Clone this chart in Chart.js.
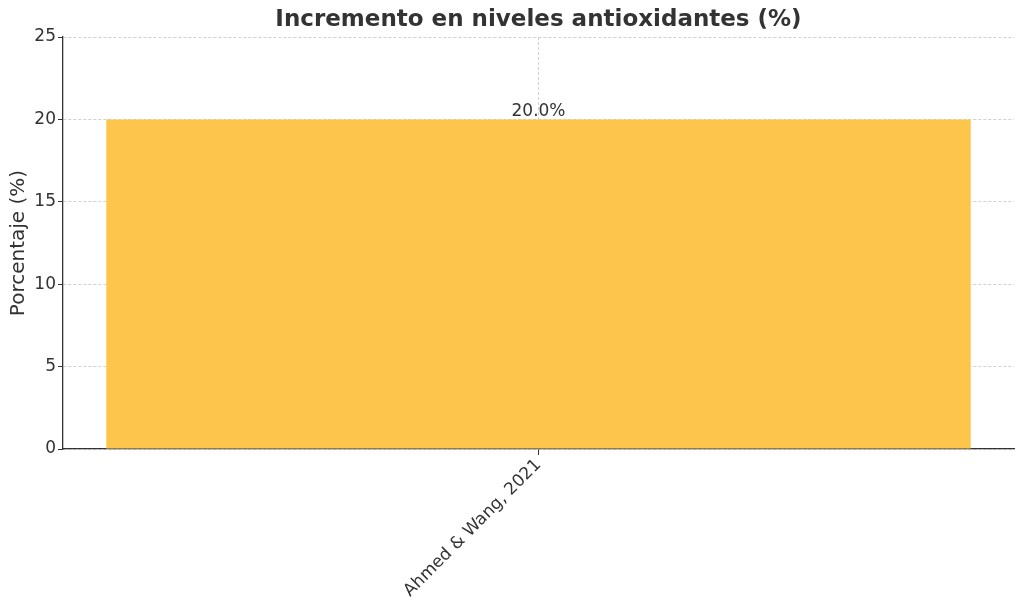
<!DOCTYPE html>
<html>
<head>
<meta charset="utf-8">
<script src="https://cdn.jsdelivr.net/npm/chart.js@4/dist/chart.umd.min.js"></script>
<style>
  html, body { margin: 0; padding: 0; background: #fff; }
  #wrap { width: 1024px; height: 611px; }
</style>
</head>
<body>
<div id="wrap"><canvas id="chart"></canvas></div>
<script>
// Chart data
const categories = ['Ahmed & Wang, 2021'];
const values = [20];
const yTicks = [0, 5, 10, 15, 20, 25];
const chartTitle = 'Incremento en niveles antioxidantes (%)';

const FONT = "'DejaVu Sans', sans-serif";
const TEXT = '#333333';

// Title centred over the plot area, plus value labels above each bar
const annotate = {
    id: 'annotate',
    afterDatasetsDraw(chart) {
        const ctx = chart.ctx;
        const area = chart.chartArea;
        const meta = chart.getDatasetMeta(0);
        ctx.save();
        ctx.font = '17px ' + FONT;
        ctx.fillStyle = TEXT;
        ctx.textAlign = 'center';
        ctx.textBaseline = 'bottom';
        meta.data.forEach((bar, i) => {
            ctx.fillText(values[i].toFixed(1) + '%', bar.x, bar.y + 1);
        });
        ctx.font = 'bold 23px ' + FONT;
        ctx.textBaseline = 'middle';
        ctx.fillText(chartTitle, (area.left + area.right) / 2, 20);
        ctx.restore();
    }
};

new Chart(document.getElementById('chart'), {
    type: 'bar',
    data: {
        labels: categories,
        datasets: [{
            data: values,
            backgroundColor: '#FEC54C',
            borderWidth: 0,
            barPercentage: 0.909,
            categoryPercentage: 1.0
        }]
    },
    options: {
        responsive: true,
        maintainAspectRatio: false,
        animation: false,
        devicePixelRatio: 1,
        layout: { padding: { left: 0, right: 10, top: 37, bottom: 0 } },
        plugins: {
            legend: { display: false },
            tooltip: { enabled: false },
            title: { display: false }
        },
        scales: {
            x: {
                z: 1,
                offset: true,
                grid: {
                    offset: false,
                    color: 'rgba(190,190,190,0.7)',
                    tickColor: '#333',
                    tickLength: 6
                },
                border: { display: true, color: '#333', width: 1.3, dash: [3, 2] },
                ticks: {
                    color: TEXT,
                    font: { family: FONT, size: 17 },
                    minRotation: 45,
                    maxRotation: 45,
                    padding: 0
                },
                afterFit(scale) { scale.height = 162; }
            },
            y: {
                z: 1,
                min: 0,
                max: 25,
                afterBuildTicks(scale) {
                    scale.ticks = yTicks.map(v => ({ value: v }));
                },
                grid: {
                    color: 'rgba(190,190,190,0.7)',
                    tickColor: '#333',
                    tickLength: 5
                },
                border: { display: true, color: '#333', width: 1.3, dash: [3, 2] },
                ticks: {
                    color: TEXT,
                    font: { family: FONT, size: 17 },
                    padding: 2
                },
                title: {
                    display: true,
                    text: 'Porcentaje (%)',
                    color: TEXT,
                    font: { family: FONT, size: 20 },
                    padding: { top: 7, bottom: 0 }
                },
                afterFit(scale) { scale.width = 63; }
            }
        }
    },
    plugins: [annotate]
});
</script>
</body>
</html>
